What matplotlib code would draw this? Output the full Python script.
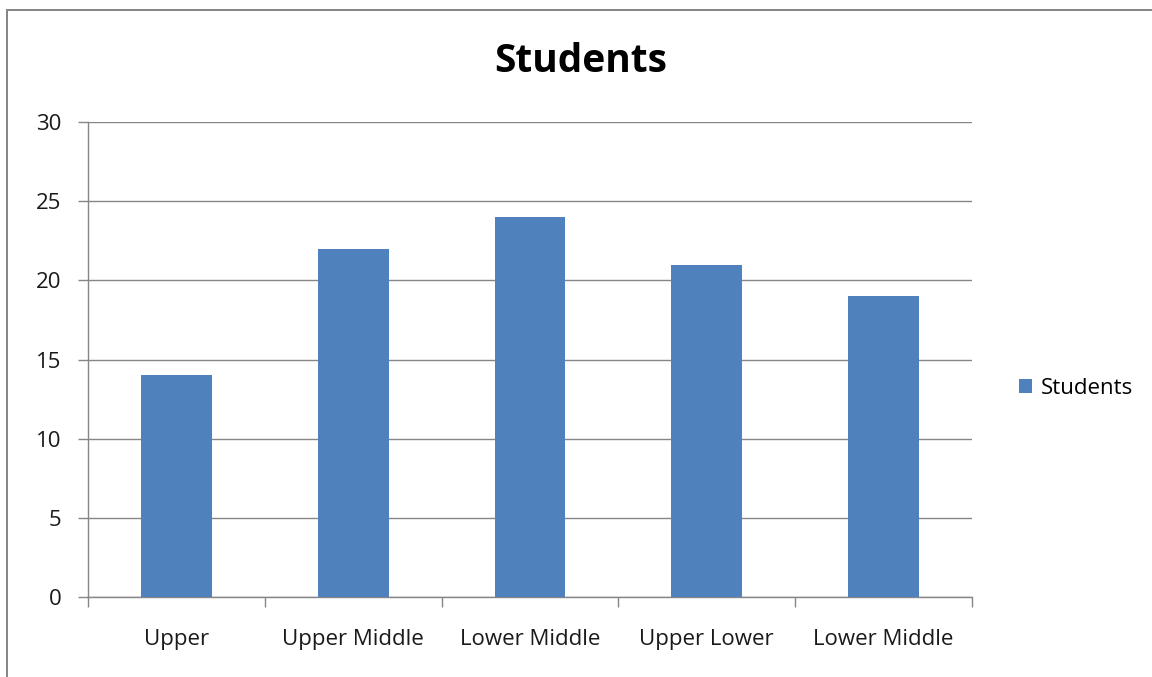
import matplotlib
matplotlib.use("Agg")
import matplotlib.pyplot as plt
from matplotlib.patches import Rectangle

categories = ["Upper", "Upper Middle", "Lower Middle", "Upper Lower", "Lower Middle"]
values = [14, 22, 24, 21, 19]
series_name = "Students"
yticks = [0, 5, 10, 15, 20, 25, 30]

plt.rcParams['font.family'] = ['Open Sans', 'DejaVu Sans']

W, H = 1152, 677
fig = plt.figure(figsize=(W / 100, H / 100), dpi=100)

# outer chart border (only top/left visible in crop), drawn as thin filled strips
fig.patches.append(Rectangle((6 / W, 1 - 11 / H), 1.0 - 6 / W, 2 / H, transform=fig.transFigure,
                             facecolor='#878787', edgecolor='none', linewidth=0))
fig.patches.append(Rectangle((6 / W, 0), 2 / W, 1 - 9 / H, transform=fig.transFigure,
                             facecolor='#878787', edgecolor='none', linewidth=0))

ax = fig.add_axes([88 / W, 1 - 597 / H, (972 - 88) / W, (597 - 122) / H])
x = list(range(len(categories)))
bars = ax.bar(x, values, width=0.4, color='#4F81BD', label=series_name, zorder=3)

ax.set_xlim(-0.5, len(categories) - 0.5)
ax.set_ylim(0, 30)
ax.set_yticks(yticks)
ax.set_yticklabels([str(v) for v in yticks], fontsize=16, color='#1a1a1a')
ax.yaxis.grid(True, color='#868686', linewidth=1)
ax.set_axisbelow(True)

ax.set_xticks([i + 0.5 for i in range(-1, len(categories))])
ax.set_xticklabels([])
ax.set_xticks(x, minor=True)
ax.set_xticklabels(categories, minor=True, fontsize=16, color='#1a1a1a')
ax.tick_params(axis='x', which='minor', length=0, pad=23)
ax.tick_params(axis='x', which='major', length=7, color='#868686', width=1)
ax.tick_params(axis='y', length=7, color='#868686', width=1, pad=12)

for s in ['top', 'right']:
    ax.spines[s].set_visible(False)
for s in ['left', 'bottom']:
    ax.spines[s].set_color('#868686')
    ax.spines[s].set_linewidth(1)

fig.text(581 / W, 1 - 62 / H, "Students", ha='center', va='center', fontsize=28,
         fontweight='bold', color='black')

leg = ax.legend(loc='center left', bbox_to_anchor=(1.03, 0.44), frameon=False,
                fontsize=16, handlelength=0.6, handleheight=0.6, handletextpad=0.4)

fig.savefig("out.png", dpi=100, facecolor='white')
